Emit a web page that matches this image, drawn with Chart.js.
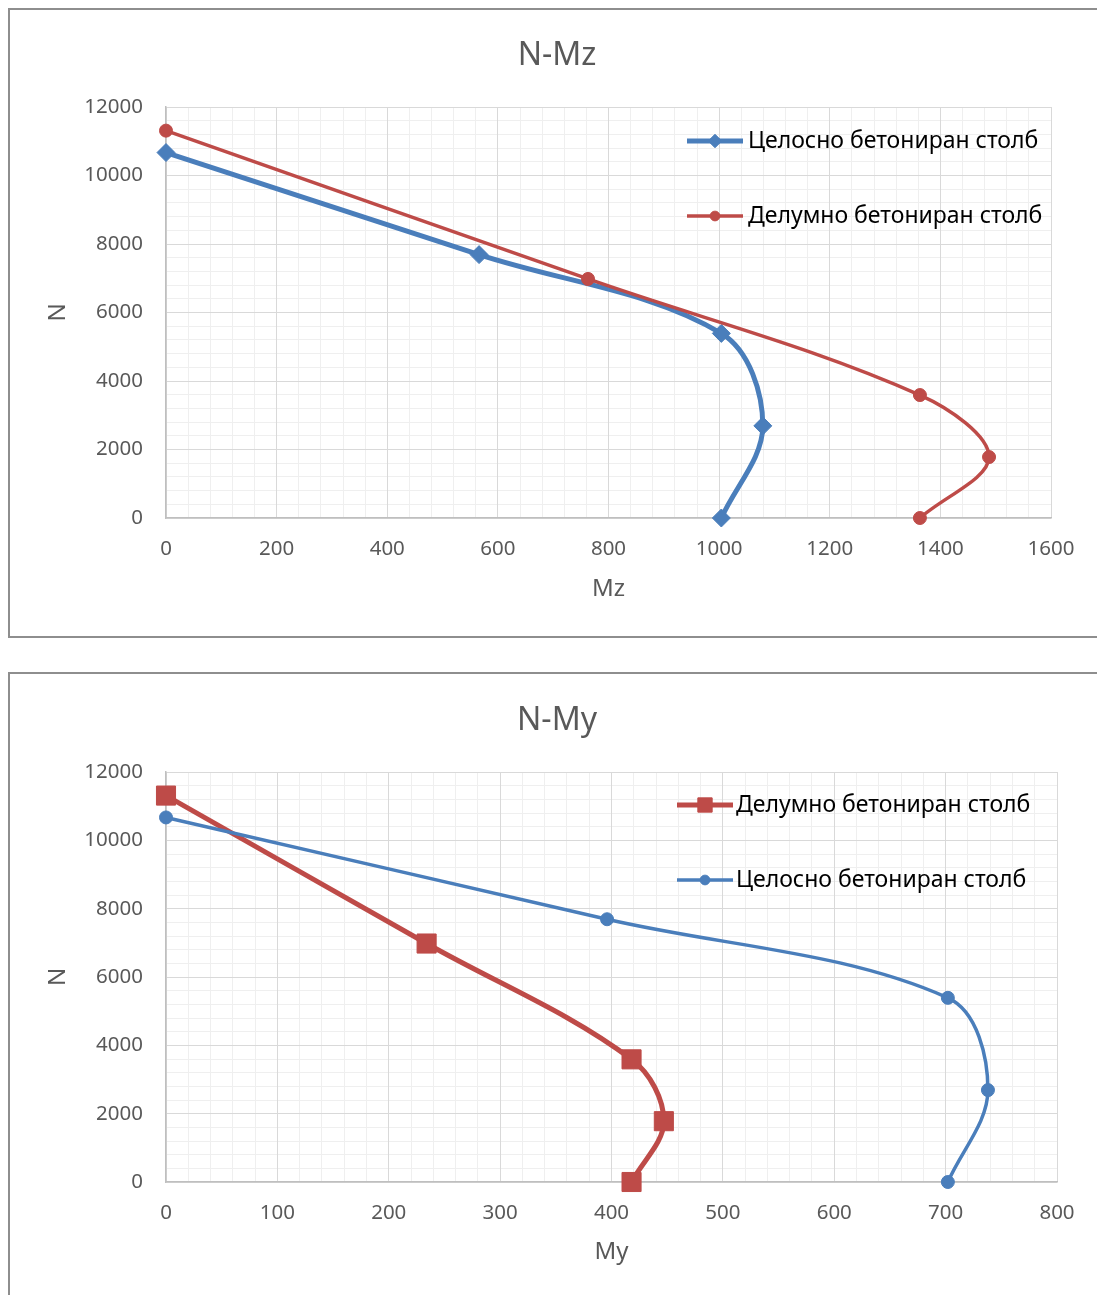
<!DOCTYPE html>
<html>
<head>
<meta charset="utf-8">
<script src="https://cdn.jsdelivr.net/npm/chart.js@4.4.1/dist/chart.umd.min.js"></script>
<style>
  html, body { margin: 0; padding: 0; background: #fff; overflow: hidden; width: 1097px; height: 1295px; }
  .frame { position: absolute; border: 2px solid #8e8e8e; background: #fff; }
  #f1 { left: 8px; top: 8px; width: 1100px; height: 626px; }
  #f2 { left: 8px; top: 672px; width: 1100px; height: 660px; }
  canvas { display: block; }
</style>
</head>
<body>
<div class="frame" id="f1"><canvas id="c1" width="1094" height="626"></canvas></div>
<div class="frame" id="f2"><canvas id="c2" width="1094" height="626"></canvas></div>
<script>
// Interaction diagrams N–M for the two column types
const FONT = "'Noto Sans', sans-serif";

// Fully encased column (Целосно бетониран столб)
const nFull  = [10670, 7690, 5390, 2690, 0];
const mzFull = [0, 566, 1004, 1079, 1004];
const myFull = [0, 396, 702, 738, 702];

// Partially encased column (Делумно бетониран столб)
const nPart  = [11310, 6980, 3590, 1780, 0];
const mzPart = [0, 763, 1363, 1488, 1363];
const myPart = [0, 234, 418, 447, 418];

// Axis tick labels
const nTicks  = [0, 2000, 4000, 6000, 8000, 10000, 12000];
const mzTicks = [0, 200, 400, 600, 800, 1000, 1200, 1400, 1600];
const myTicks = [0, 100, 200, 300, 400, 500, 600, 700, 800];

const labelFull = 'Целосно бетониран столб';
const labelPart = 'Делумно бетониран столб';

const BLUE = '#4a7ebb';
const RED = '#be4b48';
const GREY_TEXT = '#595959';

function points(xs, ys) {
  return xs.map((x, i) => ({ x: x, y: ys[i] }));
}

function fixedTicks(values) {
  return function (scale) {
    scale.ticks = values.map(v => ({ value: v }));
  };
}

function drawMarker(ctx, style, r, x, y) {
  if (Chart.helpers && Chart.helpers.drawPoint) {
    Chart.helpers.drawPoint(ctx, { pointStyle: style, radius: r, borderWidth: 1, rotation: 0 }, x, y);
    return;
  }
  ctx.beginPath();
  if (style === 'circle') {
    ctx.arc(x, y, r, 0, Math.PI * 2);
  } else if (style === 'rect') {
    const s = r * Math.SQRT1_2;
    ctx.rect(x - s, y - s, 2 * s, 2 * s);
  } else {
    ctx.moveTo(x, y - r); ctx.lineTo(x + r, y); ctx.lineTo(x, y + r); ctx.lineTo(x - r, y); ctx.closePath();
  }
  ctx.fill();
  ctx.stroke();
}

// Legend drawn inside the plot area, one row per dataset
const insideLegend = {
  id: 'insideLegend',
  afterDraw(chart, args, opts) {
    const { ctx, chartArea } = chart;
    ctx.save();
    chart.data.datasets.forEach((ds, i) => {
      const x0 = chartArea.left + opts.left;
      const y = chartArea.top + opts.top + i * opts.gap;
      ctx.strokeStyle = ds.borderColor;
      ctx.lineWidth = ds.borderWidth;
      ctx.lineCap = 'butt';
      ctx.beginPath();
      ctx.moveTo(x0, y);
      ctx.lineTo(x0 + opts.lineLen, y);
      ctx.stroke();
      ctx.fillStyle = ds.pointBackgroundColor;
      ctx.strokeStyle = ds.pointBorderColor;
      ctx.lineWidth = 1;
      drawMarker(ctx, ds.pointStyle, ds.pointRadius * opts.markerScale, x0 + opts.lineLen / 2, y);
      ctx.fillStyle = opts.color;
      ctx.font = opts.fontSize + 'px ' + FONT;
      ctx.textAlign = 'left';
      ctx.textBaseline = 'middle';
      ctx.fillText(ds.label, x0 + opts.textOffset, y);
    });
    ctx.restore();
  }
};

function series(label, xs, ys, color, width, style, radius, order) {
  return {
    label: label,
    data: points(xs, ys),
    showLine: true,
    borderColor: color,
    backgroundColor: color,
    borderWidth: width,
    tension: 0.35,
    pointStyle: style,
    pointRadius: radius,
    pointBackgroundColor: color,
    pointBorderColor: color,
    pointBorderWidth: 1,
    clip: false,
    order: order
  };
}

function makeScales(xTitle, xTicks, xMax, xMinorStep, xTitlePadBottom, rightGap) {
  return {
    xMinor: {
      type: 'linear', axis: 'x', position: 'bottom', min: 0, max: xMax, z: -1,
      ticks: { display: false, stepSize: xMinorStep },
      grid: { color: '#efefef', lineWidth: 1, drawTicks: false },
      border: { display: false },
      afterFit: s => { s.height = 0; }
    },
    yMinor: {
      type: 'linear', axis: 'y', position: 'left', min: 0, max: 12000, z: -1,
      ticks: { display: false, stepSize: 400 },
      grid: { color: '#efefef', lineWidth: 1, drawTicks: false },
      border: { display: false },
      afterFit: s => { s.width = 0; }
    },
    // empty right-hand axis that only reserves the margin beside the plot
    yGap: {
      type: 'linear', axis: 'y', position: 'right', min: 0, max: 12000,
      ticks: { display: false },
      grid: { display: false, drawTicks: false },
      border: { display: false },
      afterFit: s => { s.width = rightGap; }
    },
    x: {
      type: 'linear', position: 'bottom', min: 0, max: xMax,
      afterBuildTicks: fixedTicks(xTicks),
      ticks: { color: GREY_TEXT, font: { family: FONT, size: 20.5 }, padding: 18.5, autoSkip: false, maxRotation: 0,
               callback: v => String(v) },
      grid: { color: '#d9d9d9', lineWidth: 1, drawTicks: false },
      border: { color: '#bfbfbf', width: 1.5 },
      title: { display: true, text: xTitle, color: GREY_TEXT, font: { family: FONT, size: 24 },
               padding: { top: 0, bottom: xTitlePadBottom } },
      afterFit: s => { s.height = 118; }
    },
    y: {
      type: 'linear', position: 'left', min: 0, max: 12000,
      afterBuildTicks: fixedTicks(nTicks),
      ticks: { color: GREY_TEXT, font: { family: FONT, size: 20.5 }, padding: 23, callback: v => String(v) },
      grid: { color: '#d9d9d9', lineWidth: 1, drawTicks: false },
      border: { color: '#bfbfbf', width: 1.5 },
      title: { display: true, text: 'N', color: GREY_TEXT, font: { family: FONT, size: 24 },
               padding: { top: 33.6, bottom: 0 } },
      afterFit: s => { s.width = 156; }
    }
  };
}

function baseOptions(title, titlePadTop, scales, legendOpts) {
  return {
    responsive: false,
    animation: false,
    events: [],
    layout: { padding: 0 },
    scales: scales,
    plugins: {
      legend: { display: false },
      tooltip: { enabled: false },
      title: {
        display: true, text: title, color: GREY_TEXT,
        font: { family: FONT, size: 32, weight: 'normal' },
        padding: { top: titlePadTop, bottom: 97 - titlePadTop - 38.4 }
      },
      insideLegend: legendOpts
    }
  };
}

// N–Mz diagram
new Chart(document.getElementById('c1'), {
  type: 'scatter',
  data: {
    datasets: [
      series(labelFull, mzFull, nFull, BLUE, 5, 'rectRot', 9, 1),
      series(labelPart, mzPart, nPart, RED, 3.5, 'circle', 6.5, 0)
    ]
  },
  options: baseOptions('N-Mz', 27, makeScales('Mz', mzTicks, 1600, 40, 32.6, 53),
    { left: 521, top: 34, gap: 75, lineLen: 56, textOffset: 61, markerScale: 0.75, fontSize: 23, color: '#000' }),
  plugins: [insideLegend]
});

// N–My diagram
const opts2 = baseOptions('N-My', 28, makeScales('My', myTicks, 800, 20, 33.6, 47),
  { left: 511, top: 33, gap: 75, lineLen: 56, textOffset: 59, markerScale: 0.75, fontSize: 23, color: '#000' });
opts2.plugins.title.padding.bottom = 98 - 28 - 38.4;

new Chart(document.getElementById('c2'), {
  type: 'scatter',
  data: {
    datasets: [
      series(labelPart, myPart, nPart, RED, 5, 'rect', 13.5, 1),
      series(labelFull, myFull, nFull, BLUE, 3.5, 'circle', 6.5, 0)
    ]
  },
  options: opts2,
  plugins: [insideLegend]
});
</script>
</body>
</html>
